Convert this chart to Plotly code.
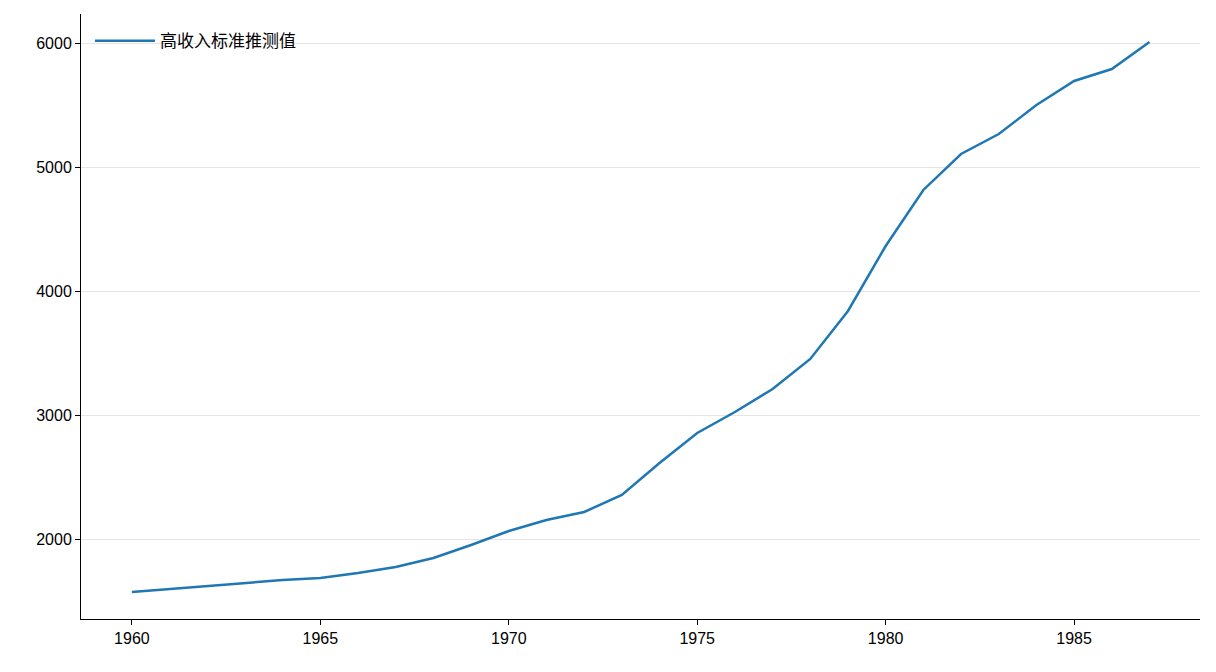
import plotly.graph_objects as go

years = list(range(1960, 1988))
values = [1573, 1597, 1621, 1645, 1669, 1685, 1726, 1774, 1847, 1952, 2065, 2153, 2218, 2355,
          2613, 2855, 3024, 3210, 3452, 3839, 4363, 4815, 5105, 5266, 5500, 5694, 5790, 6008]
series_name = "高收入标准推测值"

fig = go.Figure(go.Scatter(x=years, y=values, mode="lines", name=series_name,
                           line=dict(color="#1f77b4", width=2.5)))
fig.update_layout(
    width=1216, height=672, plot_bgcolor="white", paper_bgcolor="white",
    margin=dict(l=73, r=24, t=6, b=61),
    font=dict(family="Liberation Sans, Noto Sans CJK SC", size=16, color="black"),
    showlegend=True,
    legend=dict(x=0.008, y=0.985, xanchor="left", yanchor="top", bgcolor="rgba(0,0,0,0)",
                itemwidth=60, font=dict(size=17, family="Noto Sans CJK SC")),
)
fig.update_xaxes(range=[1958.65, 1988.34], tickvals=[1960, 1965, 1970, 1975, 1980, 1985],
                 showgrid=False, showline=True, linecolor="black", ticks="outside",
                 ticklen=5, tickcolor="black", zeroline=False)
fig.update_yaxes(range=[1355, 6234], tickvals=[2000, 3000, 4000, 5000, 6000],
                 showgrid=True, gridcolor="#e5e5e5", showline=True, linecolor="black",
                 ticks="outside", ticklen=5, tickcolor="black", zeroline=False)
fig.write_html("out.html")
